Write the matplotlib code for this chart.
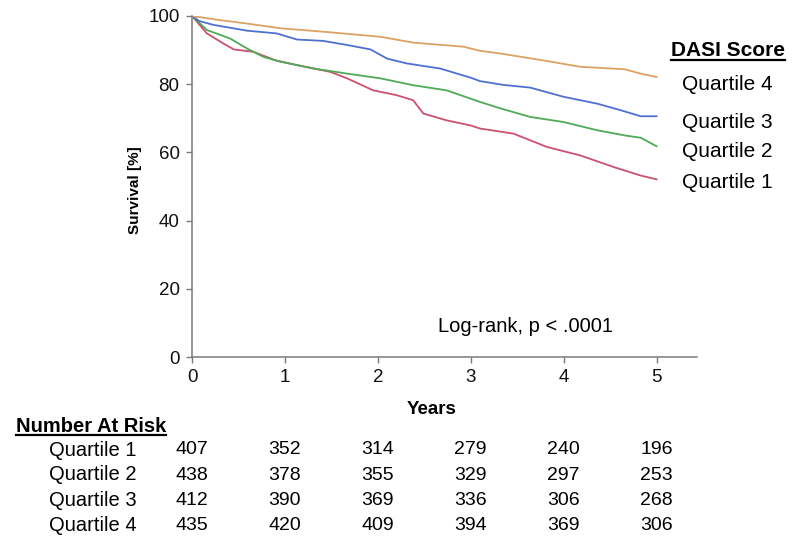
import matplotlib
matplotlib.use("Agg")
import matplotlib.pyplot as plt
from matplotlib.lines import Line2D
from matplotlib.transforms import blended_transform_factory

plt.rcParams['font.family'] = ['Liberation Sans', 'DejaVu Sans']

# ---- data ----
groups = ["Quartile 1", "Quartile 2", "Quartile 3", "Quartile 4"]
colors = ["#CC5070", "#4FAA55", "#4F70D2", "#DBA262"]

q1_t = [0, 0.16, 0.34, 0.45, 0.66, 0.9, 1.13, 1.49, 1.67, 1.95, 2.2, 2.38, 2.49, 2.74, 3.0, 3.10, 3.46, 3.82, 4.18, 4.54, 4.83, 5.0]
q1_s = [100, 94.9, 91.9, 90.2, 89.5, 87.0, 85.6, 83.6, 81.7, 78.2, 76.8, 75.3, 71.4, 69.4, 67.9, 67.0, 65.5, 61.6, 59.1, 55.7, 53.2, 52.1]

q2_t = [0, 0.16, 0.41, 0.59, 0.77, 0.95, 1.31, 1.67, 2.03, 2.38, 2.74, 3.10, 3.32, 3.64, 4.0, 4.36, 4.65, 4.83, 5.0]
q2_s = [100, 95.9, 93.4, 90.5, 88.0, 86.6, 84.6, 83.1, 81.7, 79.7, 78.2, 74.8, 72.9, 70.4, 68.9, 66.5, 65.0, 64.3, 61.8]

q3_t = [0, 0.08, 0.23, 0.59, 0.91, 1.13, 1.41, 1.67, 1.92, 2.10, 2.31, 2.67, 3.0, 3.10, 3.35, 3.64, 4.0, 4.36, 4.61, 4.83, 5.0]
q3_s = [100, 98.5, 97.4, 95.7, 94.9, 93.1, 92.7, 91.5, 90.2, 87.5, 86.1, 84.6, 81.9, 80.9, 79.8, 79.0, 76.3, 74.3, 72.4, 70.6, 70.6]

q4_t = [0, 0.1, 0.3, 0.59, 0.95, 1.41, 2.03, 2.38, 2.92, 3.10, 3.32, 3.82, 4.18, 4.65, 4.83, 5.0]
q4_s = [100, 99.6, 98.8, 97.8, 96.4, 95.4, 93.9, 92.2, 91.0, 89.8, 89.0, 86.8, 85.1, 84.4, 83.1, 82.1]

x_ticks = [0, 1, 2, 3, 4, 5]
y_ticks = [0, 20, 40, 60, 80, 100]

risk_q1 = [407, 352, 314, 279, 240, 196]
risk_q2 = [438, 378, 355, 329, 297, 253]
risk_q3 = [412, 390, 369, 336, 306, 268]
risk_q4 = [435, 420, 409, 394, 369, 306]

# ---- figure ----
W, H = 800, 549
fig = plt.figure(figsize=(W / 100, H / 100), dpi=100)
ax = fig.add_axes([192 / W, 1 - 357 / H, (697 - 192) / W, (357 - 16) / H])

series = [(q1_t, q1_s), (q2_t, q2_s), (q3_t, q3_s), (q4_t, q4_s)]
for (t, s), c in zip(series, colors):
    ax.plot(t, s, color=c, lw=1.3, solid_joinstyle='round')

ax.set_xlim(0, 5.435)
ax.set_ylim(0, 100)
ax.set_xticks(x_ticks)
ax.set_yticks(y_ticks)
for sp in ['top', 'right']:
    ax.spines[sp].set_visible(False)
for sp in ['left', 'bottom']:
    ax.spines[sp].set_color('#7a7a7a')
    ax.spines[sp].set_linewidth(1.1)
ax.tick_params(axis='both', direction='out', length=4, width=1, color='#7a7a7a',
               labelsize=13.5, labelcolor='#111111')
ax.tick_params(axis='x', pad=5)
ax.tick_params(axis='y', pad=5)

def fx(px):
    return px / W

def fy(py):
    return 1 - py / H

fig.text(fx(135), fy(190), "Survival [%]", rotation=90, fontsize=11, fontweight='bold',
         ha='center', va='center')
fig.text(fx(432), fy(409.5), "Years", fontsize=13.5, fontweight='bold', ha='center', va='center')
fig.text(fx(525), fy(327), "Log-rank, p < .0001", fontsize=14.5, ha='center', va='center')

# legend-like labels
t_dasi = fig.text(fx(728), fy(50), "DASI Score", fontsize=15, fontweight='bold', ha='center', va='center')
legend_y = {"Quartile 4": 85, "Quartile 3": 122, "Quartile 2": 152, "Quartile 1": 182}
for g in groups:
    fig.text(fx(682), fy(legend_y[g]), g, fontsize=15, ha='left', va='center')

# number at risk table
t_nar = fig.text(fx(16), fy(426), "Number At Risk", fontsize=14.5, fontweight='bold', ha='left', va='center')
row_y = [450, 475, 500.5, 525.5]
risks = [risk_q1, risk_q2, risk_q3, risk_q4]
trans = blended_transform_factory(ax.transData, fig.transFigure)
for g, yy, r in zip(groups, row_y, risks):
    fig.text(fx(49), fy(yy), g, fontsize=14.5, ha='left', va='center')
    for xv, n in zip(x_ticks, r):
        fig.text(xv, fy(yy), str(n), fontsize=14, ha='center', va='center', transform=trans)

# underlines
fig.canvas.draw()
renderer = fig.canvas.get_renderer()
for txt, uy in [(t_dasi, 60), (t_nar, 434.5)]:
    bb = txt.get_window_extent(renderer)
    fig.add_artist(Line2D([bb.x0 / W, bb.x1 / W], [fy(uy), fy(uy)], transform=fig.transFigure,
                          color='black', lw=1.6))

fig.savefig("out.png", dpi=100)
